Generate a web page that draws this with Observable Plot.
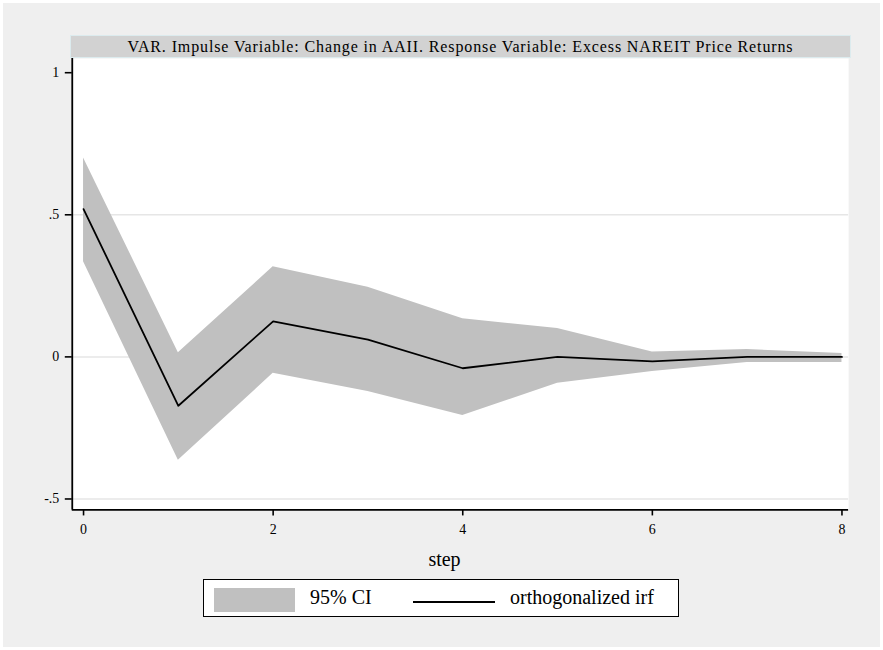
<!DOCTYPE html>
<html>
<head>
<meta charset="utf-8">
<script src="https://cdn.jsdelivr.net/npm/d3@7"></script>
<script src="https://cdn.jsdelivr.net/npm/@observablehq/plot@0.6"></script>
<style>
  html, body { margin: 0; padding: 0; background: #ffffff; }
  #fig { position: absolute; left: 3px; top: 3px; width: 877px; height: 644px; background: #efefef; font-family: "Liberation Serif", "DejaVu Serif", serif; color: #000; }
  #title { position: absolute; left: 67px; top: 32px; width: 779px; height: 21px; background: #d2d2d2; border: 1px solid #dcebee; text-align: center; font-family: "Liberation Serif", serif; font-size: 16px; line-height: 22px; letter-spacing: 0.88px; white-space: nowrap; }
  #chart { position: absolute; left: -3px; top: 55px; }
  #chart svg, #chart svg text { font-family: "Liberation Serif", serif !important; }
  #xlabel { position: absolute; left: 0; width: 883px; text-align: center; top: 545px; font-size: 20px; line-height: 23px; }
  #legend { position: absolute; left: 200px; top: 576px; width: 474px; height: 36px; background: #fff; border: 1.5px solid #000; font-size: 20px; }
  .sw { position: absolute; left: 10px; top: 8px; width: 81px; height: 24px; background: #c0c0c0; }
  .lt { position: absolute; top: 6px; line-height: 23px; white-space: nowrap; }
  .ln { position: absolute; left: 209px; top: 21px; width: 82px; height: 0; border-top: 2px solid #000; }
</style>
</head>
<body>
<div id="fig">
  <div id="title">VAR. Impulse Variable: Change in AAII. Response Variable: Excess NAREIT Price Returns</div>
  <div id="chart"></div>
  <div id="xlabel">step</div>
  <div id="legend">
    <div class="sw"></div>
    <div class="lt" style="left:106px">95% CI</div>
    <div class="ln"></div>
    <div class="lt" style="left:306px">orthogonalized irf</div>
  </div>
</div>
<script>
const steps = [0, 1, 2, 3, 4, 5, 6, 7, 8];
const irf   = [0.52, -0.172, 0.125, 0.061, -0.040, 0.000, -0.016, 0.000, 0.000];
const upper = [0.70, 0.015, 0.317, 0.245, 0.134, 0.100, 0.017, 0.026, 0.012];
const lower = [0.335, -0.364, -0.058, -0.122, -0.206, -0.093, -0.051, -0.020, -0.020];
const xTicks = [0, 2, 4, 6, 8];
const yTicks = [-0.5, 0, 0.5, 1];
const gridY = [-0.5, 0, 0.5];

const data = steps.map((s, i) => ({step: s, irf: irf[i], lower: lower[i], upper: upper[i]}));
const xDom = [-0.119, 8.07];
const yDom = [-0.5386, 1.050];
const fmt = d => d === 0 ? "0" : String(d).replace("0.", ".");

const chart = Plot.plot({
  width: 883,
  height: 502,
  marginLeft: 72,
  marginRight: 32,
  marginTop: 0,
  marginBottom: 49,
  style: {fontFamily: "Liberation Serif, serif", fontSize: "14px", color: "#000", background: "transparent", overflow: "visible"},
  x: {domain: xDom},
  y: {domain: yDom},
  marks: [
    Plot.frame({fill: "white", stroke: null}),
    Plot.ruleY(gridY, {stroke: "#e6e6e6", strokeWidth: 1.5}),
    Plot.areaY(data, {x: "step", y1: "lower", y2: "upper", fill: "#c0c0c0", fillOpacity: 1}),
    Plot.lineY(data, {x: "step", y: "irf", stroke: "#000", strokeWidth: 1.8}),
    Plot.ruleX([xDom[0]], {stroke: "#000", strokeWidth: 1.8}),
    Plot.ruleY([yDom[0]], {stroke: "#000", strokeWidth: 1.8}),
    Plot.axisY({ticks: yTicks, tickFormat: fmt, tickSize: 7, tickPadding: 6, label: null, strokeWidth: 1.6, fontSize: 14}),
    Plot.axisX({ticks: xTicks, tickFormat: d => String(d), tickSize: 6, tickPadding: 8, label: null, strokeWidth: 1.6, fontSize: 14})
  ]
});
document.getElementById("chart").appendChild(chart);
</script>
</body>
</html>
